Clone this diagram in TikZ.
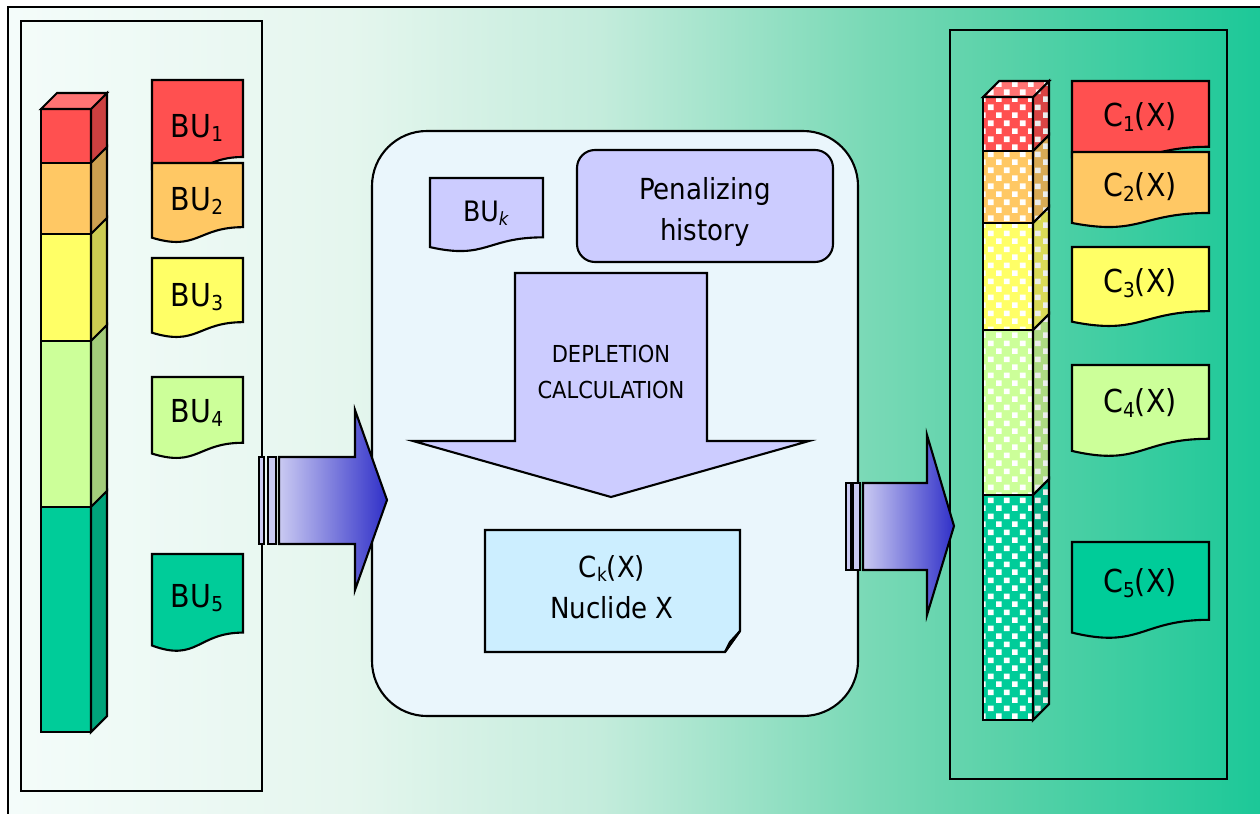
\documentclass[tikz,border=0pt]{standalone}
\usepackage{fontspec}
\setmainfont{DejaVu Sans Condensed}
\usepackage{graphicx}
\usetikzlibrary{patterns}

\definecolor{bgA}{HTML}{F4FCFA}
\definecolor{bgB}{HTML}{E5F6EE}
\definecolor{bgC}{HTML}{C4ECDC}
\definecolor{bgD}{HTML}{79D9B6}
\definecolor{bgE}{HTML}{5AD2A9}
\definecolor{bgF}{HTML}{1CC898}
\definecolor{buA}{HTML}{FF5050}
\definecolor{buB}{HTML}{FFC864}
\definecolor{buC}{HTML}{FFFF66}
\definecolor{buD}{HTML}{CCFF99}
\definecolor{buE}{HTML}{00CC99}
\definecolor{lav}{HTML}{CCCCFF}
\definecolor{notefill}{HTML}{CCEEFF}
\definecolor{boxfill}{HTML}{EAF6FC}
\definecolor{flowA}{HTML}{CACAF2}
\definecolor{flowB}{HTML}{3030C8}

\pgfdeclarehorizontalshading{bgshade}{100bp}{color(0bp)=(bgA); color(25bp)=(bgA);
  color(38.6bp)=(bgB); color(48.6bp)=(bgC); color(59.4bp)=(bgD);
  color(64.6bp)=(bgE); color(75bp)=(bgF); color(100bp)=(bgF)}

% white checks over the burnup-zone colours
\pgfdeclarepatternformonly{bubbles}{\pgfqpoint{0pt}{0pt}}{\pgfqpoint{9pt}{9pt}}{\pgfqpoint{9pt}{9pt}}{%
  \pgfpathrectangle{\pgfqpoint{0pt}{0pt}}{\pgfqpoint{3.2pt}{3.2pt}}%
  \pgfpathrectangle{\pgfqpoint{4.5pt}{4.5pt}}{\pgfqpoint{3.2pt}{3.2pt}}%
  \pgfusepath{fill}}

\newcommand{\sbs}[1]{\raisebox{-0.15em}{\scalebox{0.65}{#1}}}
% document sheet: style, x, y (top), width, height
\newcommand{\docshape}[5]{%
  \draw[#1] (#2,#3) -- ({#2+#4},#3) -- ({#2+#4},{#3+0.802*#5})
    .. controls ({#2+0.5*#4},{#3+0.802*#5}) and ({#2+0.5*#4},{#3+1.107*#5})
    .. (#2,{#3+0.934*#5}) -- cycle;}

\begin{document}
\begin{tikzpicture}[
  x=0.02cm, y=-0.02cm, line width=1.2pt,
  doctext/.style = {font=\fontsize{18}{20}\selectfont, inner sep=0pt},
  midtext/.style = {font=\fontsize{16.5}{23.5}\selectfont, align=center, inner sep=0pt},
  calctext/.style = {font=\fontsize{13.3}{21}\selectfont, align=center, inner sep=0pt},
  histbox/.style = {draw, fill=lav, rounded corners=0.36cm, minimum width=5.12cm,
                    minimum height=2.24cm, midtext},
  flow/.style    = {draw, left color=flowA, right color=flowB},
  slot/.style    = {draw, fill=flowA},
]
  \useasboundingbox (0,0) rectangle (1260,814);
  \fill[shading=bgshade] (8,7) rectangle (1260,814);
  \draw[line width=1.4pt] (8,814) -- (8,7) -- (1260,7);

  % panels
  \draw (21,21) rectangle (262,791);
  \draw (950,30) rectangle (1227,779);
  \draw[fill=boxfill, rounded corners=1.1cm] (372,131) rectangle (858,716);

  % left column of burnup zones
  \foreach \ya/\yb/\c in {109/163/buA, 163/234/buB, 234/341/buC, 341/507/buD, 507/732/buE} {
    \draw[fill=\c] (41,\ya) rectangle (91,\yb);
    \draw[fill=\c!80!black] (91,\ya) -- (107,\ya-16) -- (107,\yb-16) -- (91,\yb) -- cycle;
  }
  \draw[fill=buA!80!white] (41,109) -- (57,93) -- (107,93) -- (91,109) -- cycle;

  \foreach \n/\y/\h/\c/\ty in {1/80/96/buA/128, 2/163/80/buB/201, 3/258/80/buC/297,
                               4/377/82/buD/413, 5/554/98/buE/598} {
    \docshape{fill=\c}{152}{\y}{91}{\h}
    \node[doctext] (bu\n) at (197,\ty) {BU\sbs{\n}};
  }

  % depletion step
  \docshape{fill=lav}{430}{178}{113}{74}
  \node[doctext, font=\fontsize{16}{18}\selectfont] (buk) at (486,213) {BU\sbs{\textit{k}}};
  \draw[fill=lav, rounded corners=0.36cm] (577,150) rectangle (833,262);
  \node[midtext] (hist) at (705,212) {Penalizing\\history};

  \draw[fill=lav] (515,273) -- (707,273) -- (707,441) -- (809,441) -- (611,497)
    -- (413,441) -- (515,441) -- cycle;
  \node[calctext] (calc) at (611,372) {DEPLETION\\CALCULATION};

  \draw[fill=notefill] (485,530) -- (740,530) -- (740,631) -- (725,652) -- (485,652) -- cycle;
  \draw[fill=notefill!60!gray] (740,631) -- (730,642) -- (725,652) -- cycle;
  \node[midtext] (ck) at (612,587) {C\sbs{k}(X)\\Nuclide X};

  % right column, concentrations per zone
  \foreach \ya/\yb/\c in {97/151/buA, 151/223/buB, 223/330/buC, 330/495/buD, 495/720/buE} {
    \draw[preaction={fill=\c}, pattern=bubbles, pattern color=white] (983,\ya) rectangle (1033,\yb);
    \draw[preaction={fill=\c!85!black}, pattern=bubbles, pattern color=white!85!gray]
      (1033,\ya) -- (1049,\ya-16) -- (1049,\yb-16) -- (1033,\yb) -- cycle;
  }
  \draw[preaction={fill=buA!80!white}, pattern=bubbles, pattern color=white]
    (983,97) -- (999,81) -- (1049,81) -- (1033,97) -- cycle;

  \foreach \n/\y/\h/\c/\ty in {1/81/82/buA/117, 2/152/76/buB/187, 3/247/80/buC/283,
                               4/365/92/buD/403, 5/542/97/buE/583} {
    \docshape{fill=\c}{1072}{\y}{137}{\h}
    \node[doctext] (c\n) at (1140,\ty) {C\sbs{\n}(X)};
  }

  % block arrows
  \draw[slot] (259,457) rectangle (264,544);
  \draw[slot] (268,457) rectangle (276,544);
  \draw[flow] (279,457) -- (355,457) -- (355,410) -- (387,500) -- (355,590)
    -- (355,544) -- (279,544) -- cycle;

  \draw[slot] (846,483) rectangle (851,570);
  \draw[slot] (853,483) rectangle (860,570);
  \draw[flow] (863,483) -- (927,483) -- (927,435) -- (954,526) -- (927,615)
    -- (927,570) -- (863,570) -- cycle;
\end{tikzpicture}
\end{document}
